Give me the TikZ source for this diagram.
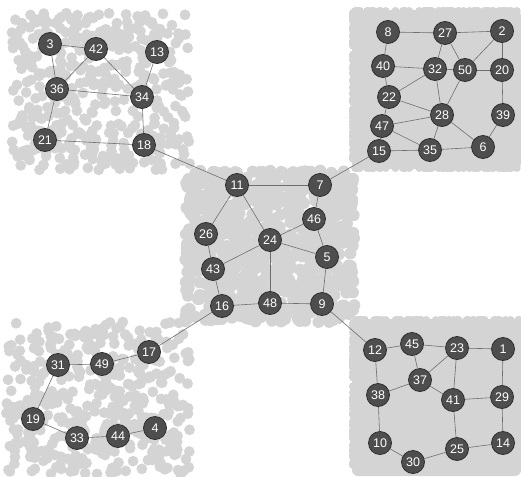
\documentclass[tikz,border=0pt]{standalone}
\usepackage{fontspec}
\setmainfont{Liberation Sans}
\definecolor{dotgray}{RGB}{212,212,212}
\definecolor{nodegray}{RGB}{78,78,78}
\definecolor{nodeedge}{RGB}{45,45,45}
\definecolor{edgegray}{RGB}{110,110,110}
\begin{document}
\begin{tikzpicture}[x=1pt,y=-1pt,
  vnode/.style={circle, fill=nodegray, draw=nodeedge, line width=0.8pt, minimum size=23pt, inner sep=0pt, text=white, font=\fontsize{12.5}{13}\selectfont},
  link/.style={draw=edgegray, line width=0.6pt},
  dot/.style={fill=dotgray}]
\useasboundingbox (0,0) rectangle (521,476);
\pgfmathsetseed{7}
% top-left scattered dots
\foreach \i in {1,...,430} {
  \pgfmathsetmacro\px{12+rnd*178}
  \pgfmathsetmacro\py{12+rnd*158}
  \fill[dot] (\px,\py) circle (5.4);
}
% bottom-left scattered dots
\foreach \i in {1,...,420} {
  \pgfmathsetmacro\px{6+rnd*184}
  \pgfmathsetmacro\py{322+rnd*152}
  \fill[dot] (\px,\py) circle (5.4);
}
% center dense dots
\foreach \i in {1,...,850} {
  \pgfmathsetmacro\px{185+rnd*170}
  \pgfmathsetmacro\py{170+rnd*152}
  \fill[dot] (\px,\py) circle (6);
}
% right solid regions
\fill[dot, rounded corners=6pt] (352,10) rectangle (521,169);
\fill[dot, rounded corners=6pt] (352,319) rectangle (521,476);
\foreach \i in {1,...,60} {
  \pgfmathsetmacro\py{12+rnd*155}
  \fill[dot] (353,\py) circle (4);
  \pgfmathsetmacro\px{355+rnd*165}
  \fill[dot] (\px,11) circle (4);
  \fill[dot] (\px,168) circle (4);
  \pgfmathsetmacro\qy{321+rnd*154}
  \fill[dot] (353,\qy) circle (4);
  \pgfmathsetmacro\qx{355+rnd*165}
  \fill[dot] (\qx,320) circle (4);
}
% nodes: top-left
\node[vnode] (n3) at (50,44) {3};
\node[vnode] (n42) at (96,49) {42};
\node[vnode] (n13) at (157,52) {13};
\node[vnode] (n36) at (57,89) {36};
\node[vnode] (n34) at (142,97) {34};
\node[vnode] (n21) at (45,140) {21};
\node[vnode] (n18) at (144,145) {18};
% top-right
\node[vnode] (n8) at (388,32) {8};
\node[vnode] (n27) at (445,33) {27};
\node[vnode] (n2) at (502,31) {2};
\node[vnode] (n40) at (383,66) {40};
\node[vnode] (n32) at (435,69) {32};
\node[vnode] (n50) at (465,70) {50};
\node[vnode] (n20) at (502,70) {20};
\node[vnode] (n22) at (389,97) {22};
\node[vnode] (n28) at (442,115) {28};
\node[vnode] (n39) at (503,115) {39};
\node[vnode] (n47) at (382,126) {47};
\node[vnode] (n15) at (379,151) {15};
\node[vnode] (n35) at (430,150) {35};
\node[vnode] (n6) at (483,147) {6};
% center
\node[vnode] (n11) at (237,185) {11};
\node[vnode] (n7) at (320,185) {7};
\node[vnode] (n46) at (314,219) {46};
\node[vnode] (n26) at (206,234) {26};
\node[vnode] (n24) at (270,240) {24};
\node[vnode] (n5) at (327,257) {5};
\node[vnode] (n43) at (213,269) {43};
\node[vnode] (n16) at (222,306) {16};
\node[vnode] (n48) at (270,303) {48};
\node[vnode] (n9) at (322,304) {9};
% bottom-left
\node[vnode] (n17) at (149,352) {17};
\node[vnode] (n31) at (58,365) {31};
\node[vnode] (n49) at (102,364) {49};
\node[vnode] (n19) at (33,419) {19};
\node[vnode] (n33) at (77,438) {33};
\node[vnode] (n44) at (118,436) {44};
\node[vnode] (n4) at (155,428) {4};
% bottom-right
\node[vnode] (n12) at (375,350) {12};
\node[vnode] (n45) at (412,344) {45};
\node[vnode] (n23) at (457,348) {23};
\node[vnode] (n1) at (503,349) {1};
\node[vnode] (n37) at (420,380) {37};
\node[vnode] (n38) at (378,395) {38};
\node[vnode] (n41) at (453,400) {41};
\node[vnode] (n29) at (502,397) {29};
\node[vnode] (n10) at (380,443) {10};
\node[vnode] (n25) at (457,449) {25};
\node[vnode] (n14) at (503,443) {14};
\node[vnode] (n30) at (413,462) {30};
% edges
\foreach \a/\b in {3/42,3/36,42/36,42/34,13/34,36/34,36/21,34/18,21/18,18/11,
  8/27,27/2,8/40,27/32,27/50,2/50,2/20,40/32,32/50,50/20,40/22,32/22,32/28,50/28,20/39,22/28,22/47,47/28,28/35,28/6,39/6,47/35,47/15,15/35,35/6,15/7,
  11/7,11/26,11/24,7/46,46/24,46/5,24/5,26/43,24/43,24/48,43/16,16/48,48/9,5/9,16/17,9/12,
  17/49,49/31,31/19,19/33,33/44,44/4,
  12/45,45/23,23/1,12/38,45/37,23/37,23/41,37/38,37/41,41/29,1/29,38/10,41/25,29/14,10/30,30/25,25/14}
  \draw[link] (n\a) -- (n\b);
\end{tikzpicture}
\end{document}
